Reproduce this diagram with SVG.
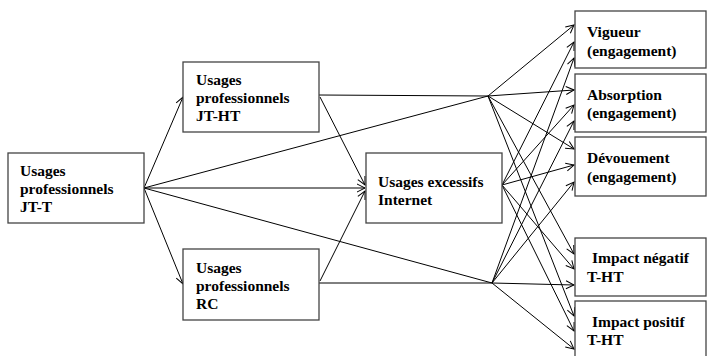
<svg xmlns="http://www.w3.org/2000/svg" width="707" height="356" viewBox="0 0 707 356">
<defs>
<marker id="arr" markerWidth="10" markerHeight="10" refX="9" refY="5" orient="auto" markerUnits="userSpaceOnUse">
<path d="M1,1 L9,5 L1,9" fill="none" stroke="#000" stroke-width="1"/>
</marker>
<style>
.box{fill:#fff;stroke:#444;stroke-width:1.3}
.t{font-weight:bold;font-size:15.5px;fill:#000}
.c line{stroke:#000;stroke-width:1}
.c line.a{marker-end:url(#arr)}
</style>
</defs>
<rect width="707" height="356" fill="#fff"/>
<g class="c" id="connectors">
<line class="a" x1="144" y1="188" x2="183" y2="97"/>
<line class="a" x1="144" y1="188" x2="183" y2="284"/>
<line class="a" x1="144" y1="188" x2="365" y2="188"/>
<line x1="144" y1="188" x2="488" y2="96"/>
<line x1="144" y1="188" x2="492" y2="283"/>
<line x1="319" y1="95" x2="488" y2="96"/>
<line class="a" x1="320" y1="97" x2="365" y2="185"/>
<line x1="319" y1="283" x2="492" y2="283"/>
<line class="a" x1="320" y1="281" x2="365" y2="191"/>
<line class="a" x1="488" y1="96" x2="574" y2="25"/>
<line class="a" x1="488" y1="96" x2="574" y2="90"/>
<line class="a" x1="488" y1="96" x2="574" y2="149"/>
<line class="a" x1="488" y1="96" x2="574" y2="254"/>
<line class="a" x1="488" y1="96" x2="574" y2="316"/>
<line class="a" x1="502" y1="185" x2="574" y2="42"/>
<line class="a" x1="502" y1="185" x2="574" y2="105"/>
<line class="a" x1="502" y1="185" x2="574" y2="165"/>
<line class="a" x1="502" y1="185" x2="574" y2="269"/>
<line class="a" x1="502" y1="185" x2="574" y2="331"/>
<line class="a" x1="492" y1="283" x2="574" y2="58"/>
<line class="a" x1="492" y1="283" x2="574" y2="121"/>
<line class="a" x1="492" y1="283" x2="574" y2="182"/>
<line class="a" x1="492" y1="283" x2="574" y2="285"/>
<line class="a" x1="492" y1="283" x2="574" y2="349"/>
</g>
<g font-family="'Liberation Serif', 'DejaVu Serif', serif">
<g id="jt-t"><rect class="box" x="8" y="153" width="136" height="70"/>
<text class="t" x="20" y="176">Usages</text><text class="t" x="20" y="194">professionnels</text><text class="t" x="20" y="212">JT-T</text></g>
<g id="jt-ht"><rect class="box" x="183" y="62" width="136" height="70"/>
<text class="t" x="196" y="85">Usages</text><text class="t" x="196" y="103">professionnels</text><text class="t" x="196" y="121">JT-HT</text></g>
<g id="rc"><rect class="box" x="183" y="249" width="136" height="71"/>
<text class="t" x="196" y="273">Usages</text><text class="t" x="196" y="291">professionnels</text><text class="t" x="196" y="309">RC</text></g>
<g id="internet"><rect class="box" x="366" y="153" width="136" height="70"/>
<text class="t" x="378" y="187">Usages excessifs</text><text class="t" x="378" y="205">Internet</text></g>
<g id="vigueur"><rect class="box" x="575" y="11" width="131" height="57"/>
<text class="t" x="587" y="37">Vigueur</text><text class="t" x="587" y="56">(engagement)</text></g>
<g id="absorption"><rect class="box" x="575" y="74" width="131" height="58"/>
<text class="t" x="587" y="100">Absorption</text><text class="t" x="587" y="118">(engagement)</text></g>
<g id="devouement"><rect class="box" x="575" y="137" width="131" height="59"/>
<text class="t" x="587" y="163">Dévouement</text><text class="t" x="587" y="182">(engagement)</text></g>
<g id="impact-negatif"><rect class="box" x="575" y="238" width="131" height="58"/>
<text class="t" x="592" y="263">Impact négatif</text><text class="t" x="587" y="282">T-HT</text></g>
<g id="impact-positif"><rect class="box" x="575" y="301" width="131" height="62"/>
<text class="t" x="592" y="327">Impact positif</text><text class="t" x="587" y="345">T-HT</text></g>
</g>
</svg>
